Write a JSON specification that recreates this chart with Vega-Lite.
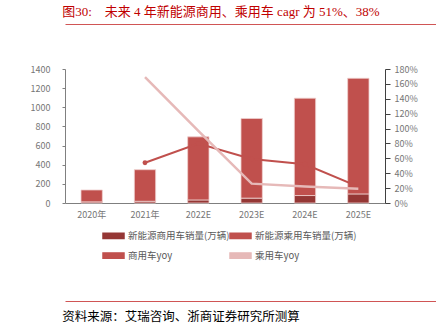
{
  "$schema": "https://vega.github.io/schema/vega-lite/v6.json",
  "background": "white",
  "padding": {"left": 22, "top": 6, "right": 4, "bottom": 2},
  "config": {
    "view": {"stroke": null},
    "font": "Noto Sans CJK SC",
    "axis": {"labelFont": "Noto Sans CJK SC", "labelFontSize": 9, "labelColor": "#767676", "grid": false, "domainColor": "#868686", "tickColor": "#868686", "title": null}
  },
  "spacing": 79,
  "datasets": {
    "sales": [
      {"year": "2020年", "series": "新能源商用车销量(万辆)", "value": 12},
      {"year": "2020年", "series": "新能源乘用车销量(万辆)", "value": 124},
      {"year": "2021年", "series": "新能源商用车销量(万辆)", "value": 18},
      {"year": "2021年", "series": "新能源乘用车销量(万辆)", "value": 330},
      {"year": "2022E", "series": "新能源商用车销量(万辆)", "value": 32},
      {"year": "2022E", "series": "新能源乘用车销量(万辆)", "value": 659},
      {"year": "2023E", "series": "新能源商用车销量(万辆)", "value": 51},
      {"year": "2023E", "series": "新能源乘用车销量(万辆)", "value": 832},
      {"year": "2024E", "series": "新能源商用车销量(万辆)", "value": 78},
      {"year": "2024E", "series": "新能源乘用车销量(万辆)", "value": 1017},
      {"year": "2025E", "series": "新能源商用车销量(万辆)", "value": 95},
      {"year": "2025E", "series": "新能源乘用车销量(万辆)", "value": 1208}
    ],
    "yoy": [
      {"year": "2021年", "series": "商用车yoy", "yoy": 0.54},
      {"year": "2022E", "series": "商用车yoy", "yoy": 0.80},
      {"year": "2023E", "series": "商用车yoy", "yoy": 0.59},
      {"year": "2024E", "series": "商用车yoy", "yoy": 0.52},
      {"year": "2025E", "series": "商用车yoy", "yoy": 0.22},
      {"year": "2021年", "series": "乘用车yoy", "yoy": 1.69},
      {"year": "2022E", "series": "乘用车yoy", "yoy": 0.97},
      {"year": "2023E", "series": "乘用车yoy", "yoy": 0.26},
      {"year": "2024E", "series": "乘用车yoy", "yoy": 0.22},
      {"year": "2025E", "series": "乘用车yoy", "yoy": 0.19}
    ],
    "rules": [{"line": 0}, {"line": 1}]
  },
  "vconcat": [
    {
      "spacing": 38,
      "vconcat": [
        {
          "width": 410,
          "height": 0.01,
          "data": {"name": "rules"},
          "mark": {"type": "point", "opacity": 0},
          "encoding": {"x": {"field": "line", "type": "quantitative", "scale": {"domain": [0, 1]},
            "axis": {"orient": "top", "labels": false, "ticks": false, "title": null, "domainColor": "#d05555", "domainWidth": 1, "grid": false}}},
          "title": {"text": "图30:\u3000未来 4 年新能源商用、乘用车 cagr 为 51%、38%", "anchor": "start", "font": "Liberation Serif, Noto Sans CJK SC", "fontSize": 13, "fontWeight": "normal", "color": "#c00000", "offset": 2}
        },
        {
          "width": 320,
          "height": 134,
          "encoding": {
            "x": {"field": "year", "type": "nominal", "sort": null, "scale": {"paddingInner": 0.6, "paddingOuter": 0.3},
                  "axis": {"title": null, "labelAngle": 0, "ticks": false, "labelPadding": 7, "domainColor": "#7f7f7f", "labelFontSize": 9}}
          },
          "layer": [
            {
              "data": {"name": "sales"},
              "mark": {"type": "bar", "stroke": "#efcfce", "strokeWidth": 0.8},
              "encoding": {
                "y": {"field": "value", "type": "quantitative", "stack": "zero", "scale": {"domain": [0, 1400]},
                      "axis": {"title": null, "values": [0, 200, 400, 600, 800, 1000, 1200, 1400], "format": "d", "tickSize": 3, "labelPadding": 12, "minExtent": 43, "domainColor": "#808080", "tickColor": "#808080"}},
                "color": {"field": "series", "type": "nominal",
                  "scale": {"domain": ["新能源商用车销量(万辆)", "新能源乘用车销量(万辆)", "商用车yoy", "乘用车yoy"], "range": ["#953735", "#c0504d", "#c0504d", "#e6b9b8"]},
                  "legend": {
                    "title": null, "orient": "none", "direction": "horizontal", "legendX": 40, "legendY": 203, "columns": 2, "columnPadding": -3, "rowPadding": 5,
                    "labelFontSize": 9.5, "labelColor": "#595959", "labelFont": "Noto Sans CJK SC", "symbolSize": 225, "labelOffset": 6, "padding": 0, "labelLimit": 300,
                    "symbolType": "M-1.4,-0.35H1.4V0.35H-1.4Z",
                    "encode": {"symbols": {
                      "shape": {"value": {"expr": "datum.value === '商用车yoy' ? 'M-1.4,0H1.4M-0.33,0A0.33,0.33 0 1,1 0.33,0A0.33,0.33 0 1,1 -0.33,0Z' : datum.value === '乘用车yoy' ? 'M-1.4,0H1.4' : 'M-1.4,-0.35H1.4V0.35H-1.4Z'"}},
                      "fill": {"value": {"expr": "datum.value === '新能源商用车销量(万辆)' ? '#953735' : datum.value === '乘用车yoy' ? '#e6b9b8' : '#c0504d'"}},
                      "stroke": {"value": {"expr": "datum.value === '新能源商用车销量(万辆)' ? '#953735' : datum.value === '乘用车yoy' ? '#e6b9b8' : '#c0504d'"}},
                      "strokeWidth": {"value": {"expr": "indexof(datum.value, 'yoy') >= 0 ? 2 : 0"}},
                      "opacity": {"value": 1}
                    }}
                  }
                },
                "order": {"field": "series", "sort": "descending"}
              }
            },
            {
              "data": {"name": "yoy"},
              "encoding": {
                "y": {"field": "yoy", "type": "quantitative", "scale": {"domain": [0, 1.8]},
                      "axis": {"orient": "right", "title": null, "values": [0, 0.2, 0.4, 0.6, 0.8, 1.0, 1.2, 1.4, 1.6, 1.8], "format": ".0%", "tickSize": 5, "labelPadding": 4, "domainColor": "#404040", "tickColor": "#404040"}},
                "color": {"field": "series", "type": "nominal"}
              },
              "layer": [
                {
                  "transform": [{"filter": "datum.series === '商用车yoy'"}],
                  "mark": {"type": "line", "strokeWidth": 2, "point": {"filled": true, "size": 24}}
                },
                {
                  "transform": [{"filter": "datum.series === '乘用车yoy'"}],
                  "mark": {"type": "line", "strokeWidth": 2.5}
                }
              ]
            }
          ],
          "resolve": {"scale": {"y": "independent"}}
        }
      ]
    },
    {
      "width": 410,
      "height": 0.01,
      "data": {"name": "rules"},
      "mark": {"type": "point", "opacity": 0},
      "encoding": {"x": {"field": "line", "type": "quantitative", "scale": {"domain": [0, 1]},
        "axis": {"orient": "top", "labels": false, "ticks": false, "title": null, "domainColor": "#d05555", "domainWidth": 1, "grid": false}}},
      "title": {"text": "资料来源：艾瑞咨询、浙商证券研究所测算", "orient": "bottom", "anchor": "start", "font": "Liberation Serif, Noto Sans CJK SC", "fontSize": 12.5, "fontWeight": "normal", "color": "#000000", "offset": 7}
    }
  ]
}
